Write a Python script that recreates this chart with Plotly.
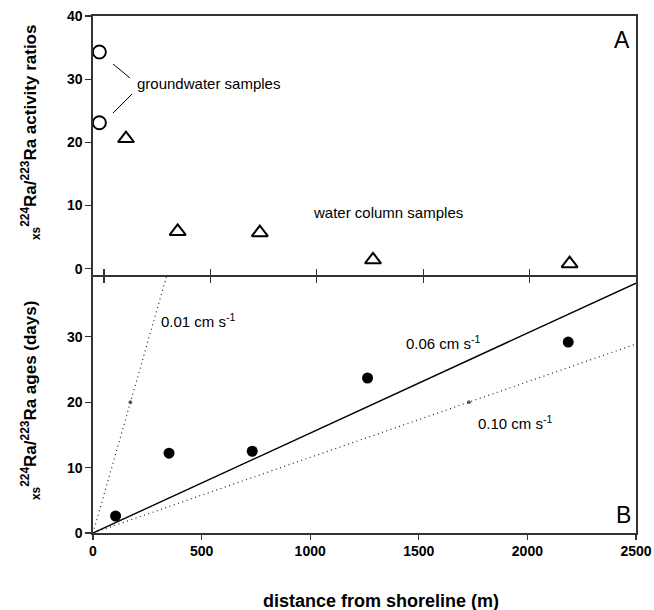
import plotly.graph_objects as go

# ---- data ----
gw_dist = [-22, -22]            # groundwater samples, panel A
gw_ratio = [34.3, 23.1]
wc_dist = [103, 346, 732, 1264, 2188]   # water column samples, panel A
wc_ratio = [20.6, 5.9, 5.7, 1.4, 0.8]
age_dist = [104, 350, 733, 1264, 2188]  # panel B ages
age_days = [2.6, 12.2, 12.5, 23.7, 29.2]
v006_x = [0, 2500]
v006_y = [0, 38.2]
v010_x = [0, 1731, 2500]
v010_y = [0, 20, 28.9]
v001_x = [0, 172, 345]
v001_y = [0, 20, 40]
ticksA_y = [0, 10, 20, 30, 40]
ticksA_x = [0, 500, 1000, 1500, 2000]
ticksB_y = [0, 10, 20, 30]
ticksB_x = [0, 500, 1000, 1500, 2000, 2500]

W, H = 654, 610
# reference pixel frame: left 93, right 636, top 16, bottom 533, split 275
L, T = 93, 16
R = W - 636
B = H - 533
PW, PH = W - L - R, H - T - B
split = (533 - 275) / PH

def px(x):
    return (x - L) / PW

def py(y):
    return (H - B - y) / PH

FONT = "Liberation Sans, Arial, sans-serif"
AX = "#333333"
DOT = "1px,3.5px"

fig = go.Figure()

# panel A
fig.add_trace(go.Scatter(x=gw_dist, y=gw_ratio, xaxis="x2", yaxis="y2", mode="markers",
                         marker=dict(symbol="circle", size=13, color="white",
                                     line=dict(color="black", width=1.9)),
                         cliponaxis=False, showlegend=False))
fig.add_trace(go.Scatter(x=wc_dist, y=wc_ratio, xaxis="x2", yaxis="y2", mode="markers",
                         marker=dict(symbol="triangle-up", size=14, color="white",
                                     line=dict(color="black", width=2)),
                         showlegend=False))

# panel B
fig.add_trace(go.Scatter(x=v001_x, y=v001_y, mode="lines+markers",
                         line=dict(color="#222", width=1.2, dash=DOT),
                         marker=dict(size=[0, 3, 0], color="#111"),
                         showlegend=False))
fig.add_trace(go.Scatter(x=v010_x, y=v010_y, mode="lines+markers",
                         line=dict(color="#222", width=1.2, dash=DOT),
                         marker=dict(size=[0, 3, 0], color="#111"),
                         showlegend=False))
fig.add_trace(go.Scatter(x=v006_x, y=v006_y, mode="lines",
                         line=dict(color="black", width=1.4), showlegend=False))
fig.add_trace(go.Scatter(x=age_dist, y=age_days, mode="markers",
                         marker=dict(symbol="circle", size=11, color="black"),
                         showlegend=False))

tickfont = dict(family=FONT, size=14, color="black", weight="bold")

fig.update_layout(
    width=W, height=H,
    margin=dict(l=L, r=R, t=T, b=B, autoexpand=False),
    paper_bgcolor="white", plot_bgcolor="white",
    font=dict(family=FONT, color="black"),
    hovermode=False,
    xaxis=dict(domain=[0, 1], anchor="y", range=[0, 2500], tickvals=ticksB_x,
               ticks="outside", ticklen=5, tickwidth=1.3, tickcolor=AX,
               showline=True, linecolor=AX, linewidth=1.6, mirror=False,
               showgrid=False, zeroline=False, tickfont=tickfont, automargin=False),
    yaxis=dict(domain=[0, split], anchor="x", range=[0, 39.45], tickvals=ticksB_y,
               ticks="outside", ticklen=6, tickwidth=1.3, tickcolor=AX,
               showline=True, linecolor=AX, linewidth=1.6, mirror=True,
               showgrid=False, zeroline=False, tickfont=tickfont, automargin=False),
    xaxis2=dict(anchor="y2", range=[-52, 2500], tickvals=ticksA_x,
                ticks="outside", ticklen=6, tickwidth=1.3, tickcolor=AX,
                showticklabels=False,
                showline=True, linecolor=AX, linewidth=1.6, mirror=True,
                showgrid=False, zeroline=False, automargin=False),
    xaxis3=dict(anchor="y2", overlaying="x2", range=[-52, 2500], tickvals=ticksA_x,
                ticks="inside", ticklen=6, tickwidth=1.3, tickcolor=AX,
                showticklabels=False, showline=False,
                showgrid=False, zeroline=False, automargin=False),
    yaxis2=dict(domain=[split, 1], anchor="x2", range=[-1, 40], tickvals=ticksA_y,
                ticks="outside", ticklen=6, tickwidth=1.3, tickcolor=AX,
                showline=True, linecolor=AX, linewidth=1.6, mirror=True,
                showgrid=False, zeroline=False, tickfont=tickfont, automargin=False),
)

# invisible trace so xaxis3 (upward tick halves) is drawn
fig.add_trace(go.Scatter(x=[None], y=[None], xaxis="x3", yaxis="y2", showlegend=False))

def ann(text, x, y, size=15, xanchor="left", bold=False, angle=0):
    fig.add_annotation(text=text, x=px(x), y=py(y), xref="paper", yref="paper",
                       xanchor=xanchor, yanchor="middle", showarrow=False,
                       textangle=angle,
                       font=dict(family=FONT, size=size, color="black",
                                 weight="bold" if bold else "normal"))

ann("groundwater samples", 135, 83)
ann("water column samples", 311, 213)
ann("A", 622, 40, size=23, xanchor="center")
ann("B", 623, 515, size=23, xanchor="center")
ann("0.01 cm s<sup>-1</sup>", 159, 320)
ann("0.06 cm s<sup>-1</sup>", 404, 342)
ann("0.10 cm s<sup>-1</sup>", 476, 422)
ann("distance from shoreline (m)", 381, 601, size=18, xanchor="center", bold=True)
ann("<sub>xs</sub><sup>224</sup>Ra/<sup>223</sup>Ra activity ratios", 30, 133,
    size=17, xanchor="center", bold=True, angle=-90)
ann("<sub>xs</sub><sup>224</sup>Ra/<sup>223</sup>Ra ages (days)", 30, 401,
    size=17, xanchor="center", bold=True, angle=-90)

for (x0, y0, x1, y1) in [(113, 64, 130, 78), (113, 113, 132, 94)]:
    fig.add_shape(type="line", xref="paper", yref="paper",
                  x0=px(x0), y0=py(y0), x1=px(x1), y1=py(y1),
                  line=dict(color="black", width=1))

fig.write_html("out.html",
               config={"displayModeBar": False, "staticPlot": True},
               post_script="document.body.style.margin='0';document.body.style.overflow='hidden';")
